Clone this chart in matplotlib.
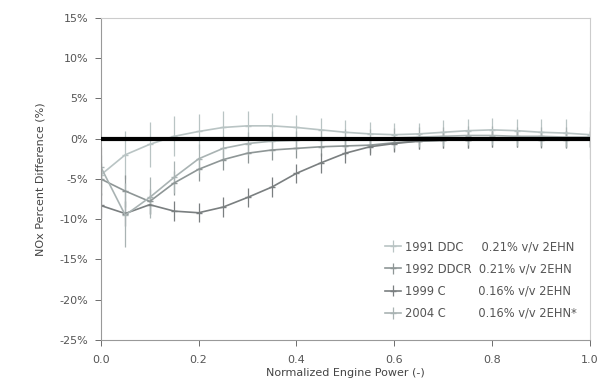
import numpy as np
import matplotlib.pyplot as plt

# normalized engine power steps
power = [0.0, 0.05, 0.1, 0.15, 0.2, 0.25, 0.3, 0.35, 0.4, 0.45, 0.5,
         0.55, 0.6, 0.65, 0.7, 0.75, 0.8, 0.85, 0.9, 0.95, 1.0]

ddc_1991 = [-4.5, -2.0, -0.7, 0.3, 0.9, 1.4, 1.6, 1.6, 1.4, 1.1, 0.8,
            0.6, 0.5, 0.6, 0.8, 1.0, 1.1, 1.0, 0.8, 0.7, 0.5]
ddc_1991_err = [2.5, 3.0, 2.8, 2.5, 2.2, 2.0, 1.8, 1.6, 1.5, 1.5, 1.5,
                1.5, 1.4, 1.4, 1.5, 1.5, 1.5, 1.5, 1.6, 1.8, 3.0]

ddcr_1992 = [-5.0, -6.5, -7.8, -5.5, -3.8, -2.6, -1.8, -1.4, -1.2, -1.0, -0.9,
             -0.8, -0.5, -0.3, -0.2, -0.1, 0.0, 0.0, -0.2, -0.1, 0.0]
ddcr_1992_err = [2.0, 2.0, 1.5, 1.5, 1.5, 1.3, 1.2, 1.2, 1.2, 1.2, 1.2,
                 1.0, 1.0, 1.0, 1.0, 1.0, 1.0, 1.0, 1.0, 1.0, 1.0]

c_1999 = [-8.3, -9.3, -8.2, -9.0, -9.2, -8.5, -7.3, -6.0, -4.3, -3.0, -1.8,
          -1.0, -0.6, -0.3, -0.2, -0.1, 0.0, 0.0, 0.0, 0.0, 0.0]
c_1999_err = [1.5, 1.5, 1.2, 1.2, 1.2, 1.2, 1.2, 1.2, 1.2, 1.2, 1.2,
              1.0, 1.0, 1.0, 1.0, 1.0, 1.0, 1.0, 1.0, 1.0, 1.0]

c_2004 = [-3.5, -9.5, -7.3, -4.8, -2.5, -1.2, -0.6, -0.3, -0.2, -0.1, 0.0,
          0.0, 0.1, 0.2, 0.3, 0.4, 0.4, 0.3, 0.3, 0.2, 0.2]
c_2004_err = [2.5, 4.0, 2.5, 2.0, 1.8, 1.5, 1.4, 1.3, 1.2, 1.2, 1.2,
              1.2, 1.2, 1.2, 1.2, 1.2, 1.2, 1.2, 1.2, 1.2, 1.2]

labels = ["1991 DDC     0.21% v/v 2EHN",
          "1992 DDCR  0.21% v/v 2EHN",
          "1999 C         0.16% v/v 2EHN",
          "2004 C         0.16% v/v 2EHN*"]

plt.rcParams["font.family"] = ["DejaVu Sans"]

fig = plt.figure(figsize=(6.07, 3.92), dpi=100)
ax = fig.add_axes([0.166, 0.133, 0.806, 0.821])

series = [
    (ddc_1991, ddc_1991_err, "#b9c4c4"),
    (ddcr_1992, ddcr_1992_err, "#8e9696"),
    (c_1999, c_1999_err, "#7a7f80"),
    (c_2004, c_2004_err, "#a9b3b3"),
]

for (vals, err, col), lab in zip(series, labels):
    ax.errorbar(power, vals, yerr=err, color=col, lw=1.2, marker="_",
                markersize=5, elinewidth=0.9, capsize=0, label=lab)

ax.axhline(0, color="black", lw=3, zorder=5)

ax.set_xlim(0, 1.0)
ax.set_ylim(-25, 15)
ax.set_xticks(np.arange(0, 1.01, 0.2))
ax.set_xticklabels([f"{v:.1f}" for v in np.arange(0, 1.01, 0.2)])
ax.set_yticks(np.arange(-25, 16, 5))
ax.set_yticklabels([f"{v}%" for v in range(-25, 16, 5)])
ax.tick_params(labelsize=8, colors="#555555", length=4, width=0.6)
ax.tick_params(axis="x", pad=7)
ax.tick_params(axis="y", pad=5)

for s in ax.spines.values():
    s.set_color("#999999")
    s.set_linewidth(0.8)
ax.spines["top"].set_color("#cccccc")
ax.spines["right"].set_color("#cccccc")

ax.set_xlabel("Normalized Engine Power (-)", fontsize=8, color="#444444", labelpad=2)
ax.set_ylabel("NOx Percent Difference (%)", fontsize=8, color="#444444", labelpad=10)

leg = ax.legend(loc="lower right", bbox_to_anchor=(0.995, 0.03), frameon=False,
                fontsize=8.3, handlelength=1.4, handletextpad=0.4, labelspacing=0.8)
for t in leg.get_texts():
    t.set_color("#555555")

fig.savefig("out.png", dpi=100)
